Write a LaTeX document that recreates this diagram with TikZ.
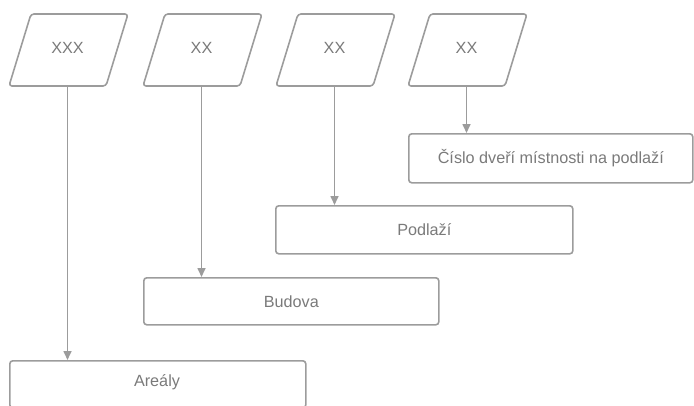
\documentclass[tikz,border=0pt]{standalone}
\usepackage{fontspec}
\setmainfont{Liberation Sans}
\usetikzlibrary{arrows.meta}
\definecolor{lc}{HTML}{9C9C9C}
\definecolor{tc}{HTML}{7A7A7A}
\begin{document}
\begin{tikzpicture}[x=1pt,y=-1pt,
  shapeline/.style={draw=lc,line width=1.6pt,rounded corners=3pt,line join=round},
  lbl/.style={text=tc,font=\fontsize{16.2}{19}\selectfont,inner sep=0pt},
  boxnode/.style={draw=lc,line width=1.6pt,rounded corners=3pt,anchor=north west,inner sep=0pt},
  conn/.style={draw=lc,line width=1.6pt,-{Triangle[length=9pt,width=8pt]}}]
\useasboundingbox (0,0) rectangle (694,405);
% parallelograms
\foreach \x/\n in {9/p1,143/p2,276/p3,408/p4}{
  \draw[shapeline] (\x+22,14) -- (\x+119,14) -- (\x+97,86) -- (\x,86) -- cycle;
  \coordinate (\n) at (\x+58.5,86);
}
\node[lbl] (t1) at (67.5,48) {XXX};
\node[lbl] (t2) at (201.5,48) {XX};
\node[lbl] (t3) at (334.5,48) {XX};
\node[lbl] (t4) at (466.5,48) {XX};
% boxes
\node[boxnode,minimum width=284pt,minimum height=49pt] (c) at (408,133) {};
\node[lbl] (ct) at (c.center) {Číslo dveří místnosti na podlaží};
\node[boxnode,minimum width=297pt,minimum height=48pt] (pd) at (275,205) {};
\node[lbl] (pdt) at (pd.center) {Podlaží};
\node[boxnode,minimum width=295pt,minimum height=47pt] (b) at (143,277) {};
\node[lbl] (bt) at (b.center) {Budova};
\node[boxnode,minimum width=296pt,minimum height=47pt] (a) at (9,360) {};
\node[lbl] (at) at (157,382) {Areály};
% connectors
\draw[conn] (p1) -- (p1 |- a.north);
\draw[conn] (p2) -- (p2 |- b.north);
\draw[conn] (p3) -- (p3 |- pd.north);
\draw[conn] (p4) -- (p4 |- c.north);
\end{tikzpicture}
\end{document}
